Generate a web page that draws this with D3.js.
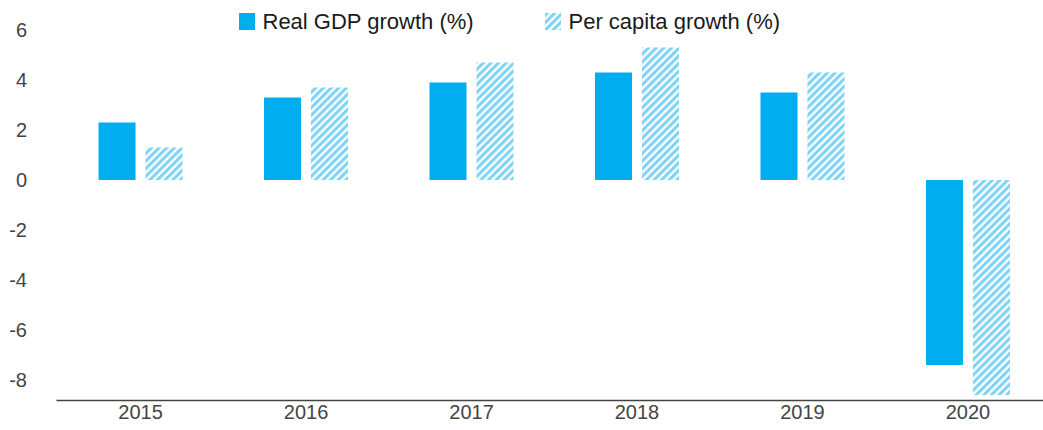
<!DOCTYPE html>
<html>
<head>
<meta charset="utf-8">
<script src="https://cdn.jsdelivr.net/npm/d3@7"></script>
<style>
  html, body { margin: 0; padding: 0; background: #fff; }
  svg { display: block; font-family: "Liberation Sans", Arial, sans-serif; }
</style>
</head>
<body>
<svg id="chart" width="1043" height="430"></svg>
<script>
// Growth data by year
const years = ["2015", "2016", "2017", "2018", "2019", "2020"];
const seriesNames = ["Real GDP growth (%)", "Per capita growth (%)"];
const realGdpGrowth = [2.3, 3.3, 3.9, 4.3, 3.5, -7.4];
const perCapitaGrowth = [1.3, 3.7, 4.7, 5.3, 4.3, -8.6];
const yTickValues = [-8, -6, -4, -2, 0, 2, 4, 6];

const solidBlue = "#00aeef";
const hatchBlue = "#80d3f4";

const rows = years.map((y, i) => ({
  year: y,
  values: [
    { key: seriesNames[0], value: realGdpGrowth[i] },
    { key: seriesNames[1], value: perCapitaGrowth[i] }
  ]
}));

const svg = d3.select("#chart");

// Diagonal stripe pattern for per capita bars
const defs = svg.append("defs");
const pat = defs.append("pattern")
  .attr("id", "stripes")
  .attr("patternUnits", "userSpaceOnUse")
  .attr("width", 5.4)
  .attr("height", 5.4)
  .attr("patternTransform", "rotate(45)");
pat.append("rect").attr("width", 5.4).attr("height", 5.4).attr("fill", "#fff");
pat.append("rect").attr("width", 3.1).attr("height", 5.4).attr("fill", hatchBlue);

const fillFor = key => key === seriesNames[0] ? solidBlue : "url(#stripes)";

// Scales
const x0 = d3.scaleBand()
  .domain(years)
  .range([56, 1052.5])
  .paddingInner(0.4924)
  .paddingOuter(0.257);

const x1 = d3.scaleBand()
  .domain(seriesNames)
  .range([0, x0.bandwidth()])
  .paddingInner(0.2128);

const y = d3.scaleLinear()
  .domain([-8.8, 6])
  .range([400, 30]);

// Bars
const groups = svg.append("g")
  .selectAll("g")
  .data(rows)
  .join("g")
  .attr("transform", d => `translate(${x0(d.year)},0)`);

groups.selectAll("rect")
  .data(d => d.values)
  .join("rect")
  .attr("x", d => x1(d.key))
  .attr("width", x1.bandwidth())
  .attr("y", d => y(Math.max(0, d.value)))
  .attr("height", d => Math.abs(y(d.value) - y(0)))
  .attr("fill", d => fillFor(d.key));

// Y axis (labels only)
const yAxis = svg.append("g")
  .attr("transform", "translate(30,0)")
  .call(d3.axisLeft(y).tickValues(yTickValues).tickSize(0).tickPadding(3).tickFormat(d => String(d)));
yAxis.select(".domain").remove();
yAxis.selectAll("text")
  .attr("fill", "#444")
  .style("font-size", "20px")
  .style("font-family", "\"Liberation Sans\", Arial, sans-serif");

// X axis along the bottom
const xAxis = svg.append("g")
  .attr("transform", `translate(0,${y(-8.8)})`)
  .call(d3.axisBottom(x0).tickSize(0).tickPadding(5).tickSizeOuter(0));
xAxis.select(".domain").attr("stroke", "#444").attr("stroke-width", 1.5);
xAxis.selectAll("text")
  .attr("fill", "#444")
  .style("font-size", "20px")
  .style("font-family", "\"Liberation Sans\", Arial, sans-serif");

// Legend
const legendX = [239, 545];
const legend = svg.append("g")
  .selectAll("g")
  .data(seriesNames)
  .join("g")
  .attr("transform", (d, i) => `translate(${legendX[i]},13)`);
legend.append("rect")
  .attr("width", 16)
  .attr("height", 17)
  .attr("fill", d => fillFor(d));
legend.append("text")
  .attr("x", 23.5)
  .attr("y", 16)
  .attr("fill", "#1a1a1a")
  .style("font-size", "22px")
  .text(d => d);
</script>
</body>
</html>
